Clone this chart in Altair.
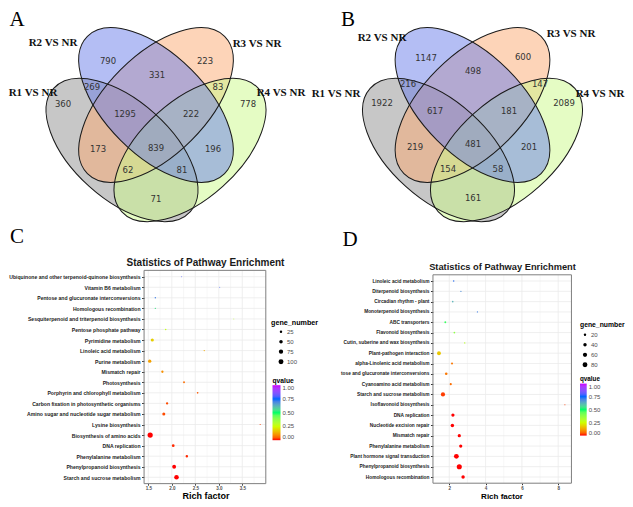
import json
import altair as alt
import pandas as pd

# ---------------- data ----------------
set_names = ["R1 VS NR", "R2 VS NR", "R3 VS NR", "R4 VS NR"]
set_colors = ["#8f8f8f", "#6a7eea", "#fba972", "#cbf98a"]

# region counts in order: R2, R3, R2R3, R1R2, R3R4, R1, R4, R1R2R3, R2R3R4,
# R1R3, all, R2R4, R1R3R4, R1R2R4, R1R4
A_counts = [790, 223, 331, 269, 83, 360, 778, 1295, 222, 173, 839, 196, 62, 81, 71]
B_counts = [1147, 600, 498, 216, 147, 1922, 2089, 617, 181, 219, 481, 201, 154, 58, 161]

C_paths = ["Ubiquinone and other terpenoid-quinone biosynthesis", "Vitamin B6 metabolism",
           "Pentose and glucuronate interconversions", "Homologous recombination",
           "Sesquiterpenoid and triterpenoid biosynthesis", "Pentose phosphate pathway",
           "Pyrimidine metabolism", "Linoleic acid metabolism", "Purine metabolism",
           "Mismatch repair", "Photosynthesis", "Porphyrin and chlorophyll metabolism",
           "Carbon fixation in photosynthetic organisms",
           "Amino sugar and nucleotide sugar metabolism", "Lysine biosynthesis",
           "Biosynthesis of amino acids", "DNA replication", "Phenylalanine metabolism",
           "Phenylpropanoid biosynthesis", "Starch and sucrose metabolism"]
C_rich = [2.21, 3.02, 1.65, 1.65, 3.32, 1.87, 1.585, 2.69, 1.53, 1.80,
          2.26, 2.55, 1.90, 1.83, 3.88, 1.54, 2.03, 2.32, 2.05, 2.10]
C_genes = [4, 4, 9, 9, 4, 10, 40, 6, 45, 22, 14, 11, 22, 38, 5, 110, 30, 25, 60, 85]
C_q = [0.80, 0.78, 0.70, 0.55, 0.30, 0.27, 0.18, 0.13, 0.12, 0.10,
       0.06, 0.04, 0.03, 0.03, 0.02, 0.0, 0.01, 0.01, 0.0, 0.0]
C_xlim = [1.41, 4.0]
C_xticks = [1.5, 2.0, 2.5, 3.0, 3.5]
C_minor = [1.75, 2.25, 2.75, 3.25, 3.75]
C_size_legend = [25, 50, 75, 100]

D_paths = ["Linoleic acid metabolism", "Diterpenoid biosynthesis", "Circadian rhythm - plant",
           "Monoterpenoid biosynthesis", "ABC transporters", "Flavonoid biosynthesis",
           "Cutin, suberine and wax biosynthesis", "Plant-pathogen interaction",
           "alpha-Linolenic acid metabolism", "tose and glucuronate interconversions",
           "Cyanoamino acid metabolism", "Starch and sucrose metabolism",
           "Isoflavonoid biosynthesis", "DNA replication", "Nucleotide excision repair",
           "Mismatch repair", "Phenylalanine metabolism", "Plant hormone signal transduction",
           "Phenylpropanoid biosynthesis", "Homologous recombination"]
D_rich = [2.24, 2.64, 2.19, 3.55, 1.78, 2.28, 2.85, 1.43, 2.15, 1.83,
          2.08, 1.65, 8.37, 2.20, 2.17, 2.55, 2.63, 2.39, 2.55, 2.76]
D_genes = [8, 6, 8, 5, 12, 10, 7, 50, 14, 22, 16, 60, 4, 36, 40, 36, 36, 78, 88, 40]
D_q = [0.72, 0.68, 0.62, 0.70, 0.48, 0.38, 0.30, 0.17, 0.07, 0.07,
       0.06, 0.02, 0.02, 0.0, 0.0, 0.0, 0.0, 0.0, 0.0, 0.0]
D_xlim = [1.1, 8.73]
D_xticks = [2, 4, 6, 8]
D_minor = [3, 5, 7]
D_size_legend = [20, 40, 60, 80]

q_stops = [0, 0.25, 0.5, 0.75, 1.0]
q_colors = ["#FF0000", "#CCFF00", "#00FF66", "#0066FF", "#CC00FF"]

title_text = "Statistics of Pathway Enrichment"
xlab_text = "Rich factor"

# ---------------- layout (page pixels) ----------------
PX0, PX1, PY0, PY1 = 8, 625, 8, 499
W, H = PX1 - PX0, PY1 - PY0

A_reg_xy = [(108, 60), (205, 60), (157, 74), (92, 86), (218, 86), (63, 103), (248, 103),
            (125, 113), (191, 113), (98, 148), (156, 147), (213, 148), (128, 169),
            (182, 169), (156, 198)]
B_reg_xy = [(426, 57), (523, 56), (473, 70), (408, 83), (540, 83), (382, 102), (564, 102),
            (435, 110), (509, 110), (415, 146), (473, 143), (529, 146), (448, 168),
            (498, 168), (473, 197)]
# ellipse geometry for panel A: cx, cy, a, b, angle   (order R1, R2, R3, R4)
ell_geom = [(122, 149, 92, 49, 42), (156, 104, 97, 50, 45),
            (156, 104, 97, 50, 135), (190, 149, 92, 49, 138)]
draw_order = [0, 2, 3, 1]
B_shift = 316.5
A_lab_xy = [(33, 92), (53, 42), (257, 43), (281, 92)]
B_lab_xy = [(336, 93), (382, 37), (571, 33), (600, 93)]
letters = ["A", "B", "C", "D"]
letter_xy = [(17, 24.5), (348, 24.5), (17, 242), (350, 245)]
title_xy = [(205.5, 262, 10), (502.5, 266, 9.3)]
xlab_xy = [(206, 495.3, 9), (502, 496, 8)]

K = 0.5523


def ell_path(r):
    return (f"M-1,0C-1,{-r*K:.4f} {-K:.4f},{-r} 0,{-r}C{K:.4f},{-r} 1,{-r*K:.4f} 1,0"
            f"C1,{r*K:.4f} {K:.4f},{r} 0,{r}C{-K:.4f},{r} -1,{r*K:.4f} -1,0Z")


def lin_dom(pa, va, pb, vb, lo, hi):
    s = (pb - pa) / (vb - va)
    return [va - (pa - lo) / s, va + (hi - pa) / s]


ell_rows = []
for shift in (0, B_shift):
    for i in draw_order:
        cx, cy, a, b, ang = ell_geom[i]
        ell_rows.append({"x": cx + shift, "y": cy, "size": (2 * a) ** 2,
                         "shape": ell_path(b / a), "ang": ang, "col": set_colors[i]})
ell_df = pd.DataFrame(ell_rows)

num_df = pd.DataFrame(
    [{"x": p[0], "y": p[1], "t": str(c)} for p, c in zip(A_reg_xy, A_counts)] +
    [{"x": p[0], "y": p[1], "t": str(c)} for p, c in zip(B_reg_xy, B_counts)])
lab_df = pd.DataFrame(
    [{"x": p[0], "y": p[1], "t": n} for p, n in zip(A_lab_xy, set_names)] +
    [{"x": p[0], "y": p[1], "t": n} for p, n in zip(B_lab_xy, set_names)])
let_df = pd.DataFrame([{"x": p[0], "y": p[1], "t": t} for p, t in zip(letter_xy, letters)])
ttl_df = pd.DataFrame([{"x": p[0], "y": p[1], "fs": p[2], "t": title_text} for p in title_xy])
xl_df = pd.DataFrame([{"x": p[0], "y": p[1], "fs": p[2], "t": xlab_text} for p in xlab_xy])

XP = alt.X("x:Q", scale=alt.Scale(domain=[PX0, PX1], nice=False, zero=False), axis=None)
YP = alt.Y("y:Q", scale=alt.Scale(domain=[PY0, PY1], nice=False, zero=False, reverse=True),
           axis=None)

fills = alt.Chart(ell_df).mark_point(filled=True, opacity=0.5, strokeWidth=0).encode(
    x=XP, y=YP, size=alt.Size("size:Q", scale=None), shape=alt.Shape("shape:N", scale=None),
    angle=alt.Angle("ang:Q", scale=None), color=alt.Color("col:N", scale=None))
outlines = alt.Chart(ell_df).mark_point(filled=False, opacity=1, stroke="#1a1a1a",
                                        strokeWidth=1).encode(
    x=XP, y=YP, size=alt.Size("size:Q", scale=None), shape=alt.Shape("shape:N", scale=None),
    angle=alt.Angle("ang:Q", scale=None))
nums = alt.Chart(num_df).mark_text(font="DejaVu Sans", fontSize=8.5, color="#333333").encode(
    x=XP, y=YP, text="t:N")
labs = alt.Chart(lab_df).mark_text(font="Liberation Serif", fontSize=11, fontWeight="bold",
                                   color="#111111").encode(x=XP, y=YP, text="t:N")
lets = alt.Chart(let_df).mark_text(font="Liberation Serif", fontSize=21, baseline="alphabetic",
                                   color="#000000").encode(x=XP, y=YP, text="t:N")
ttls = alt.Chart(ttl_df).mark_text(font="Liberation Sans", fontWeight="bold",
                                   color="#1a1a1a").encode(
    x=XP, y=YP, text="t:N", size=alt.Size("fs:Q", scale=None))
xls = alt.Chart(xl_df).mark_text(font="Liberation Sans", fontWeight="bold",
                                 color="#000000").encode(
    x=XP, y=YP, text="t:N", size=alt.Size("fs:Q", scale=None))


def panel(paths, rich, genes, q, xlim, xticks, minor, xfmt, size_dom, size_rng, size_vals,
          xref, yref, lab_fs, size_leg_xy, grad_leg_xy, grad_len, grad_th, leg_title_fs,
          sym_off):
    n = len(paths)
    xdom = lin_dom(xref[0][0], xref[0][1], xref[1][0], xref[1][1], PX0, PX1)
    ydom = lin_dom(yref[0], 0, yref[1], n - 1, PY0, PY1)
    xsc = alt.Scale(domain=xdom, nice=False, zero=False)
    ysc = alt.Scale(domain=ydom, nice=False, zero=False, reverse=True)
    left_px = xref[0][0] + (xlim[0] - xref[0][1]) * (xref[1][0] - xref[0][0]) / (xref[1][1] - xref[0][1])
    step = (yref[1] - yref[0]) / (n - 1)
    bottom_px = yref[1] + 0.6 * step

    df = pd.DataFrame({"idx": list(range(n)), "rich": rich, "genes": genes, "q": q,
                       "x0": xlim[0], "x1": xlim[1]})
    vg = pd.DataFrame({"v": list(xticks) + list(minor),
                       "w": [0.8] * len(xticks) + [0.4] * len(minor),
                       "y0": -0.6, "y1": n - 0.4})
    frame = pd.DataFrame({"x0": [xlim[0]], "x1": [xlim[1]], "y0": [-0.6], "y1": [n - 0.4]})

    hgrid = alt.Chart(df).mark_rule(color="#ebebeb", strokeWidth=0.8).encode(
        x=alt.X("x0:Q", scale=xsc, axis=None), x2="x1:Q",
        y=alt.Y("idx:Q", scale=ysc, axis=None))
    vgrid = alt.Chart(vg).mark_rule(color="#ebebeb").encode(
        x=alt.X("v:Q", scale=xsc, axis=None), y=alt.Y("y0:Q", scale=ysc, axis=None),
        y2="y1:Q", strokeWidth=alt.StrokeWidth("w:Q", scale=None))
    box = alt.Chart(frame).mark_rect(filled=False, stroke="#7f7f7f", strokeWidth=1).encode(
        x=alt.X("x0:Q", scale=xsc, axis=None), x2="x1:Q",
        y=alt.Y("y0:Q", scale=ysc, axis=None), y2="y1:Q")
    pts = alt.Chart(df).mark_circle(opacity=1).encode(
        x=alt.X("rich:Q", scale=xsc,
                axis=alt.Axis(orient="bottom", offset=bottom_px - PY1, values=xticks,
                              format=xfmt, title=None, labelFont="Liberation Sans",
                              labelFontSize=4.5, labelFontWeight="bold", labelColor="#4d4d4d",
                              labelPadding=0.5, tickSize=1.5, tickColor="#333333",
                              domain=False, grid=False, labelOverlap=False, labelFlush=False)),
        y=alt.Y("idx:Q", scale=ysc,
                axis=alt.Axis(orient="left", offset=PX0 - left_px, values=list(range(n)),
                              labelExpr=json.dumps(paths) + "[datum.value]", title=None,
                              labelFont="Liberation Sans", labelFontSize=lab_fs,
                              labelFontWeight="bold", labelColor="#1a1a1a", labelPadding=1.5,
                              tickSize=2.5, tickColor="#333333", domain=False, grid=False,
                              labelOverlap=False, labelFlush=False, labelLimit=400)),
        size=alt.Size("genes:Q", title="gene_number",
                      scale=alt.Scale(domain=size_dom, range=size_rng),
                      legend=alt.Legend(orient="none", legendX=size_leg_xy[0] - PX0,
                                        legendY=size_leg_xy[1] - PY0, values=size_vals,
                                        titleFont="Liberation Sans",
                                        titleFontSize=leg_title_fs, titleFontWeight="bold",
                                        titleColor="#000000", titlePadding=3,
                                        labelFont="Liberation Sans", labelFontSize=6,
                                        labelColor="#4d4d4d", symbolFillColor="#000000",
                                        symbolStrokeWidth=0, symbolOpacity=1,
                                        symbolOffset=sym_off, labelOffset=3,
                                        rowPadding=4, clipHeight=6)),
        color=alt.Color("q:Q", title="qvalue",
                        scale=alt.Scale(domain=q_stops, range=q_colors, interpolate="lab"),
                        legend=alt.Legend(orient="none", legendX=grad_leg_xy[0] - PX0,
                                          legendY=grad_leg_xy[1] - PY0, values=q_stops,
                                          format=".2f", direction="vertical",
                                          gradientLength=grad_len, gradientThickness=grad_th,
                                          titleFont="Liberation Sans",
                                          titleFontSize=leg_title_fs - 0.5,
                                          titleFontWeight="bold", titleColor="#000000",
                                          titlePadding=1, labelFont="Liberation Sans",
                                          labelFontSize=6, labelColor="#4d4d4d",
                                          labelOffset=2, gradientStrokeWidth=0)),
    )
    return [hgrid, vgrid, pts, box]


C_layers = panel(C_paths, C_rich, C_genes, C_q, C_xlim, C_xticks, C_minor, ".1f",
                 [0, 110], [0, 27], C_size_legend,
                 [(148.3, 1.5), (242.3, 3.5)], (275.7, 476.3), 5.1,
                 (271, 317.5), (272.5, 376.5), 55, 8, 7.2, 7)
D_layers = panel(D_paths, D_rich, D_genes, D_q, D_xlim, D_xticks, D_minor, "d",
                 [0, 95], [0, 28], D_size_legend,
                 [(449.3, 2), (558.2, 8)], (280, 476), 4.8,
                 (580, 321), (580, 375.3), 52, 6.7, 6.8, 2)

chart = alt.layer(fills, outlines, nums, labs, lets, ttls, xls, *C_layers, *D_layers).resolve_scale(
    x="independent", y="independent", color="independent", size="independent",
    shape="independent", angle="independent", strokeWidth="independent"
).properties(width=W, height=H, padding=0,
             view=alt.ViewBackground(strokeWidth=0)).configure(background="white")

chart.save("out.html", embed_options={"renderer": "svg", "actions": False})
